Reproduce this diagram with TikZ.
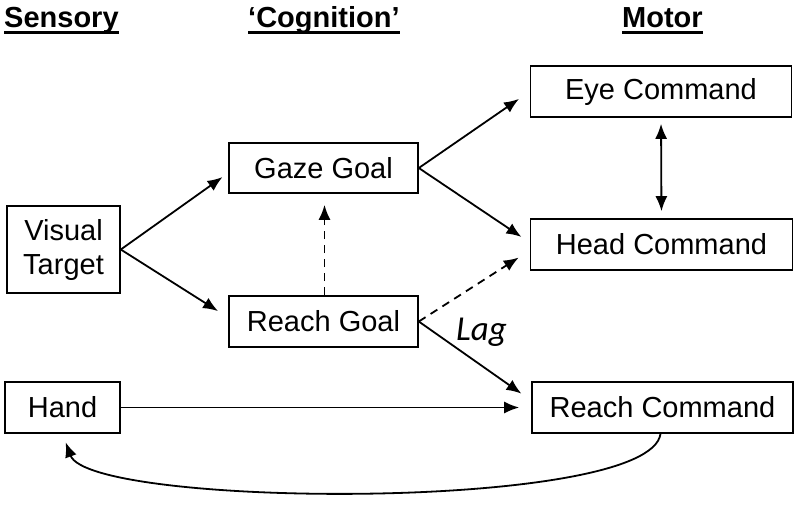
\documentclass[tikz,border=0pt]{standalone}
\usepackage{fontspec}
\setmainfont{Liberation Sans}
\newfontfamily\lagfont{Carlito}
\usetikzlibrary{arrows.meta}
\tikzset{box/.style={rectangle, draw, line width=1.6pt, inner sep=0pt,
                     font=\fontsize{29}{34}\selectfont, align=center},
         head/.style={inner sep=0pt, anchor=base west, font=\fontsize{29}{34}\selectfont\bfseries},
         link/.style={-{Latex[length=15pt,width=12pt]}, line width=1.8pt, shorten >=12pt},
         hint/.style={link, dash pattern=on 8pt off 6pt}}

\begin{document}
\begin{tikzpicture}[x=1pt,y=-1pt]
      \useasboundingbox (0,0) rectangle (800,515);
      % column titles
      \node[head] (sens) at (4,27) {Sensory};
      \node[head] (cogn) at (248,27) {‘Cognition’};
      \node[head] (motor) at (622,27) {Motor};
      \foreach \t in {sens,cogn,motor}
	\draw[line width=2.8pt] ([yshift=-5.5pt]\t.base west) -- ([yshift=-5.5pt]\t.base east);
      % boxes
      \node[box, minimum width=113pt, minimum height=87pt] (vis) at (63.5,249.5) {Visual\\Target};
      \node[box, minimum width=189pt, minimum height=50pt] (gaze) at (323.5,168) {Gaze Goal};
      \node[box, minimum width=189pt, minimum height=51pt] (reach) at (323.5,321.5) {Reach Goal};
      \node[box, minimum width=261pt, minimum height=51pt] (eye) at (661,91.5) {Eye Command};
      \node[box, minimum width=262pt, minimum height=51pt] (headc) at (661.5,244.5) {Head Command};
      \node[box, minimum width=261pt, minimum height=51pt] (rcmd) at (662.5,407.5) {Reach Command};
      \node[box, minimum width=115pt, minimum height=51pt] (hand) at (62.5,407.5) {Hand};
      \node[inner sep=0pt, anchor=base west, font=\fontsize{35}{40}\selectfont\lagfont\itshape]
	(lag) at (456,340) {Lag};
      % connections
      \draw[link, shorten >=7pt] (vis.east) -- ([yshift=-5pt]gaze.west);
      \draw[link] (vis.east) -- ([yshift=4pt]reach.west);
      \draw[link, shorten >=13pt] (gaze.east) -- (eye.west);
      \draw[link, shorten >=10pt] (gaze.east) -- ([yshift=2pt]headc.west);
      \draw[hint, shorten >=11pt] ([xshift=1pt]reach.north) -- ([xshift=1pt]gaze.south);
      \draw[hint, shorten >=13pt] (reach.east) -- ([yshift=-6pt]headc.west);
      \draw[link] (reach.east) -- ([yshift=7pt]rcmd.west);
      \draw[link] (hand.east) -- (rcmd.west);
      \draw[line width=1.8pt, {Latex[length=15pt,width=12pt]}-{Latex[length=15pt,width=12pt]},
	shorten <=6pt, shorten >=7pt] (eye.south) -- (headc.north);
      \draw[link, shorten >=9pt] ([xshift=-2pt]rcmd.south)
	.. controls (650,512) and (90,508) .. (hand.south);
    \end{tikzpicture}
\end{document}
